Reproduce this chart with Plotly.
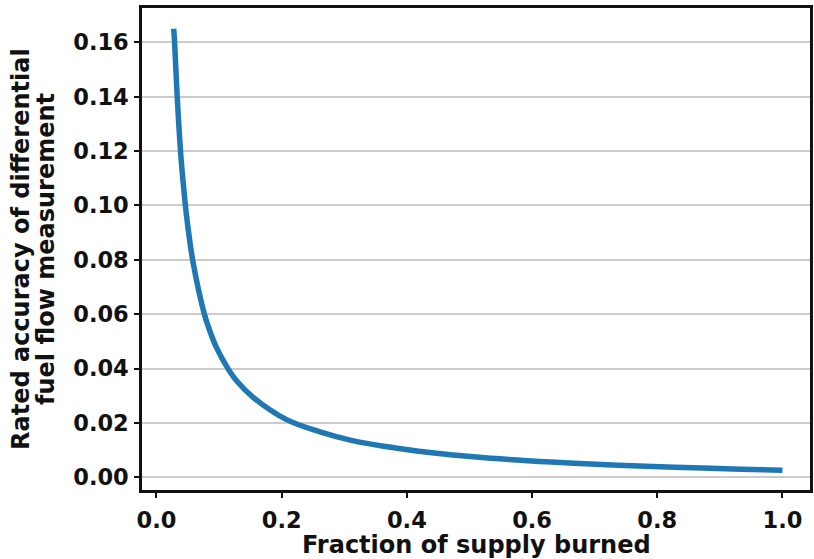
import plotly.graph_objects as go

# Values
fraction_burned = [0.0275, 0.0290, 0.0331, 0.0385, 0.0426, 0.0461, 0.0492, 0.0585,
                   0.0766, 0.0850, 0.0957, 0.1155, 0.1276, 0.1540, 0.2071,
                   0.2600, 0.3130, 0.3661, 0.4191, 0.5251, 0.6310, 0.7371, 0.8273,
                   0.9332, 1.0]
rated_accuracy = [0.1650, 0.1600, 0.1402, 0.1198, 0.1085, 0.1002, 0.0940, 0.0790,
                  0.0600, 0.0540, 0.0478, 0.0395, 0.0356, 0.0295, 0.0213,
                  0.0168, 0.0135, 0.0113, 0.0096, 0.0072, 0.0056, 0.0044, 0.0037,
                  0.0030, 0.0026]

x_ticks = [0.0, 0.2, 0.4, 0.6, 0.8, 1.0]
x_tick_labels = ["0.0", "0.2", "0.4", "0.6", "0.8", "1.0"]
y_ticks = [0.00, 0.02, 0.04, 0.06, 0.08, 0.10, 0.12, 0.14, 0.16]
y_tick_labels = ["0.00", "0.02", "0.04", "0.06", "0.08", "0.10", "0.12", "0.14", "0.16"]

x_title = "Fraction of supply burned"
y_title_lines = ["Rated accuracy of differential", "fuel flow measurement"]

FONT = "DejaVu Sans"
TXT = "#111111"

fig = go.Figure()
fig.add_trace(go.Scatter(
    x=fraction_burned, y=rated_accuracy, mode="lines",
    line=dict(color="#1f77b4", width=5.5, shape="spline", smoothing=1.0),
    showlegend=False, hoverinfo="skip",
))

fig.update_layout(
    width=814, height=559,
    margin=dict(l=142, r=1, t=8, b=69),
    paper_bgcolor="white", plot_bgcolor="white",
    font=dict(family=FONT, color=TXT),
    xaxis=dict(
        range=[-0.0231, 1.044], tickvals=x_ticks, ticktext=x_tick_labels,
        showgrid=False, zeroline=False,
        showline=True, linecolor="#111111", linewidth=2.5, mirror=True,
        ticks="outside", ticklen=5, tickwidth=1.5, tickcolor="#111111",
        ticklabelstandoff=3,
        tickfont=dict(family=FONT, size=22.5, color=TXT, weight="bold"),
    ),
    yaxis=dict(
        range=[-0.00467, 0.17262], tickvals=y_ticks, ticktext=y_tick_labels,
        showgrid=True, gridcolor="#cccccc", gridwidth=1.5, zeroline=False,
        showline=True, linecolor="#111111", linewidth=2.5, mirror=True,
        ticks="outside", ticklen=5, tickwidth=1.5, tickcolor="#111111",
        ticklabelstandoff=1,
        tickfont=dict(family=FONT, size=22.5, color=TXT, weight="bold"),
    ),
)

fig.add_annotation(
    text="<b>" + x_title + "</b>", xref="paper", yref="paper",
    x=0.5, y=0, yshift=-55, showarrow=False,
    font=dict(family=FONT, size=24, color=TXT), yanchor="middle",
)
fig.add_annotation(
    text="<b>" + y_title_lines[0] + "</b>", xref="paper", yref="paper",
    x=0, xshift=-121, y=0.5, showarrow=False, textangle=-90,
    font=dict(family=FONT, size=24, color=TXT), xanchor="center",
)
fig.add_annotation(
    text="<b>" + y_title_lines[1] + "</b>", xref="paper", yref="paper",
    x=0, xshift=-96, y=0.5, showarrow=False, textangle=-90,
    font=dict(family=FONT, size=24, color=TXT), xanchor="center",
)

fig.write_html("out.html", config={"displayModeBar": False},
               post_script="document.body.style.margin='0';")
